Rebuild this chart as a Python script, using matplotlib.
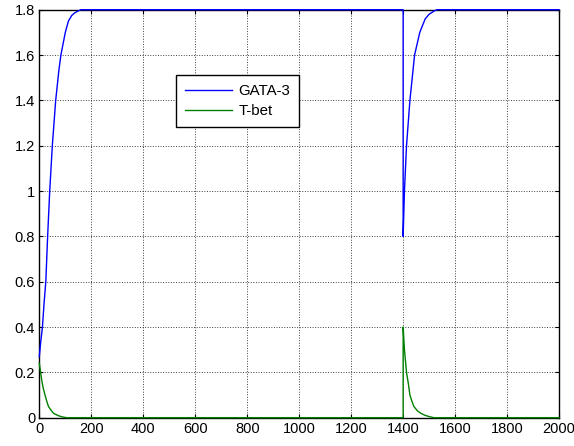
import matplotlib
matplotlib.use("Agg")
import matplotlib.pyplot as plt

plt.rcParams['font.family'] = ['Liberation Sans', 'DejaVu Sans']

# GATA-3 time course
gata_t = [0, 5, 12, 18, 25, 32, 40, 50, 63, 75, 83, 100, 112, 125, 135, 150, 160,
          1400, 1400, 1405, 1413, 1426, 1444, 1464, 1485, 1500, 1520, 1530, 2000]
gata_v = [0.27, 0.33, 0.40, 0.50, 0.60, 0.80, 1.00, 1.20, 1.40, 1.53, 1.60, 1.70, 1.75, 1.775, 1.785, 1.795, 1.80,
          1.80, 0.80, 1.00, 1.20, 1.40, 1.60, 1.70, 1.76, 1.78, 1.795, 1.80, 1.80]

# T-bet time course
tbet_t = [0, 5, 10, 15, 22, 28, 35, 45, 54, 60, 75, 90, 105,
          1400, 1400, 1405, 1413, 1420, 1426, 1433, 1441, 1455, 1467, 1485, 1500, 1518, 2000]
tbet_v = [0.24, 0.20, 0.16, 0.13, 0.10, 0.075, 0.05, 0.033, 0.02, 0.016, 0.008, 0.003, 0.0,
          0.0, 0.40, 0.30, 0.20, 0.15, 0.10, 0.075, 0.05, 0.03, 0.02, 0.01, 0.005, 0.0, 0.0]

fig = plt.figure(figsize=(5.74, 4.46), dpi=100)
ax = fig.add_axes([0.0685, 0.0635, 0.9055, 0.9147])

ax.plot(gata_t, gata_v, color=(0, 0, 1), lw=1.0, label='GATA-3', zorder=3, clip_on=False)
ax.plot(tbet_t, tbet_v, color=(0, 0.5, 0), lw=1.0, label='T-bet', zorder=3, clip_on=False)

ax.set_xlim(0, 2000)
ax.set_ylim(0, 1.8)
ax.set_xticks(range(0, 2001, 200))
ax.set_yticks([0, 0.2, 0.4, 0.6, 0.8, 1.0, 1.2, 1.4, 1.6, 1.8])
ax.set_yticklabels(['0', '0.2', '0.4', '0.6', '0.8', '1', '1.2', '1.4', '1.6', '1.8'])
ax.grid(True, color='k', linestyle=':', linewidth=0.7, alpha=0.75)
ax.tick_params(direction='in', length=3, width=0.8, top=True, right=True,
               labelsize=10.5, colors='k', pad=3)
for s in ax.spines.values():
    s.set_linewidth(1.0)
    s.set_color('k')

leg = ax.legend(loc='upper left', bbox_to_anchor=(0.263, 0.84), borderaxespad=0,
                fancybox=False, framealpha=1, edgecolor='k', fontsize=10.8,
                handlelength=3.1, handletextpad=0.45, borderpad=0.6, labelspacing=0.4)
leg.get_frame().set_linewidth(1.0)

fig.savefig('out.png', dpi=100)
